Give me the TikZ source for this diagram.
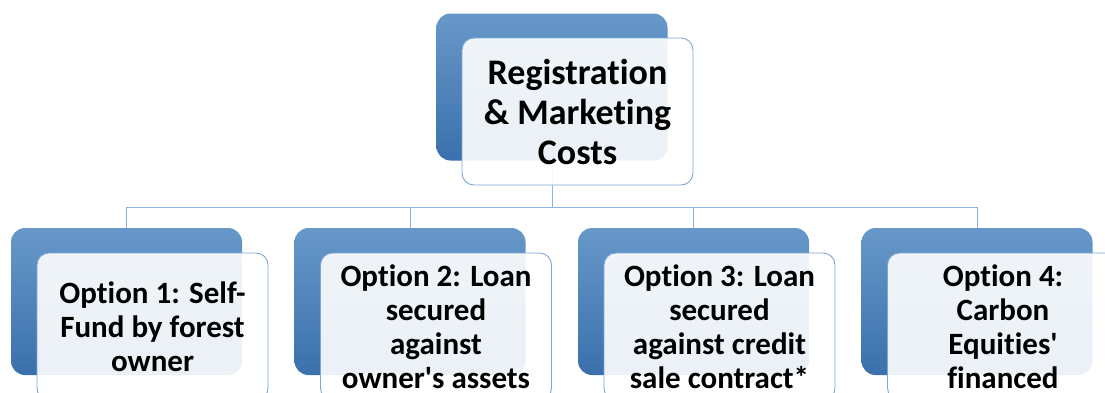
\documentclass[tikz,border=0pt]{standalone}
\usepackage{fontspec}
\setmainfont[Ligatures=NoCommon]{Carlito}

\definecolor{boxtop}{RGB}{104,152,201}
\definecolor{boxbot}{RGB}{58,112,172}
\definecolor{edgeblue}{RGB}{128,166,212}
\definecolor{linkblue}{RGB}{141,179,226}

\begin{document}
\begin{tikzpicture}[x=1pt,y=-1pt,
    back/.style={rounded corners=14pt,top color=boxtop,bottom color=boxbot,
      minimum width=231pt,minimum height=147pt,inner sep=0pt},
    front/.style={rounded corners=12pt,draw=edgeblue,line width=0.9pt,
      fill=white,fill opacity=0.9,text opacity=1,
      minimum width=231pt,minimum height=147pt,inner sep=0pt,align=center,
      font=\bfseries},
    link/.style={draw=linkblue,line width=0.9pt}]
  \useasboundingbox (0,0) rectangle (1105,392);
  \clip (0,0) rectangle (1105,392);

  \node[back] (regback) at (552,87) {};
  \foreach \i in {0,...,3}
    \node[back] (optback\i) at (126.5+283.5*\i,301.5) {};

  % connectors
  \draw[link] (regback.south) -- ++(0,47) coordinate (bar);
  \foreach \i in {0,...,3}
    \draw[link] (bar) -| (optback\i.north);

  \node[front,font=\bfseries\fontsize{36}{40}\selectfont] (reg)
    at ([shift={(25.5,24.5)}]regback.center) {Registration\\\& Marketing\\Costs};
  \foreach \i/\txt in {0/{Option 1: Self-\\Fund by forest\\owner},
      1/{Option 2: Loan\\secured\\against\\owner\textquotesingle s assets},
      2/{Option 3: Loan\\secured\\against credit\\sale contract*},
      3/{Option 4:\\Carbon\\Equities\textquotesingle\\financed}}
    \node[front,font=\bfseries\fontsize{31}{34}\selectfont] (opt\i)
      at ([shift={(26,25)}]optback\i.center) {\txt};
\end{tikzpicture}
\end{document}
